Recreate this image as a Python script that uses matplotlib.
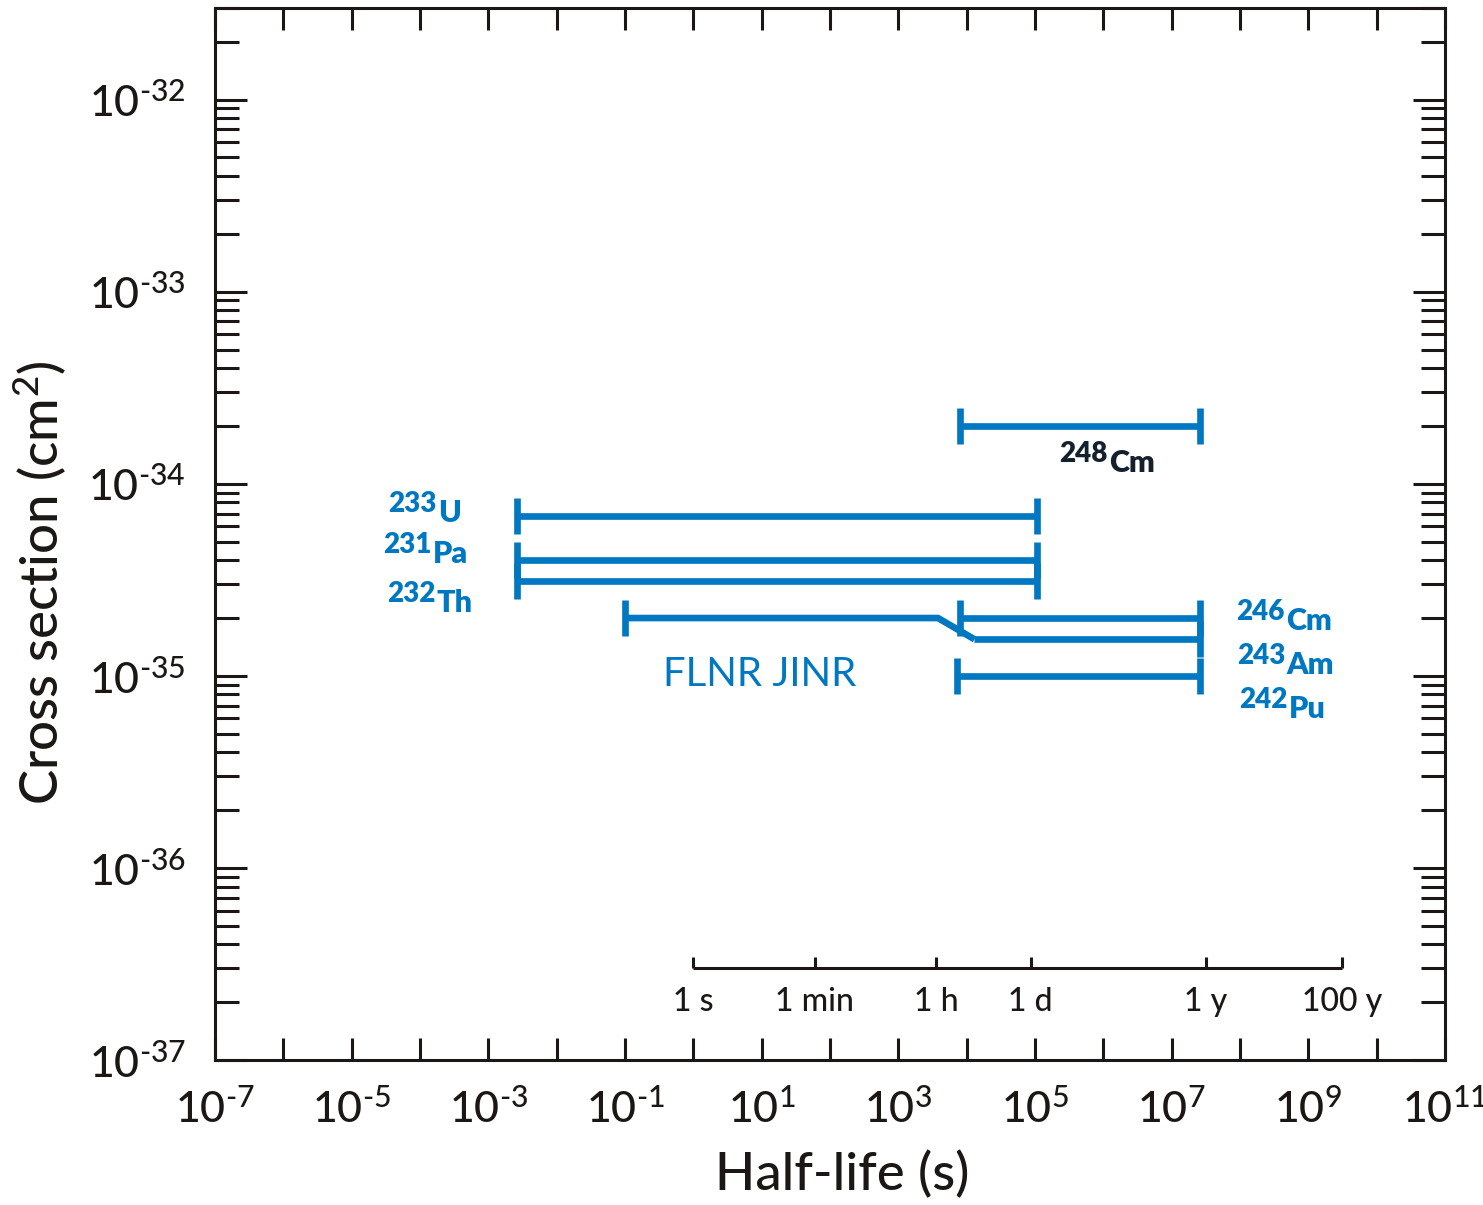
import numpy as np
import matplotlib
matplotlib.use("Agg")
from matplotlib import pyplot as plt
from matplotlib.ticker import FixedLocator, FixedFormatter, LogLocator, NullLocator, NullFormatter

plt.rcParams['font.family'] = ['Lato', 'DejaVu Sans']
plt.rcParams['mathtext.fontset'] = 'custom'
plt.rcParams['mathtext.rm'] = 'Lato'
plt.rcParams['mathtext.it'] = 'Lato:italic'
plt.rcParams['mathtext.bf'] = 'Lato:bold'

BLUE = '#0078c1'
DARK = '#1a1714'

# measured ranges (half-life in s, cross section in cm^2)
iso_mass = ['233', '231', '232', '248', '246', '243', '242']
iso_sym = ['U', 'Pa', 'Th', 'Cm', 'Cm', 'Am', 'Pu']
x_lo = [2.6e-3, 2.6e-3, 2.6e-3, 7.9e3, 7.9e3, 1.3e4, 7.2e3]
x_hi = [1.07e5, 1.07e5, 1.07e5, 2.6e7, 2.6e7, 2.6e7, 2.6e7]
sigma = [6.8e-35, 4.0e-35, 3.1e-35, 2.0e-34, 2.0e-35, 1.55e-35, 1.0e-35]
left_cap = [True, True, True, True, True, False, True]

# FLNR JINR line, joins the 243Am range
flnr_x = [0.1, 3.8e3, 1.3e4]
flnr_y = [2.0e-35, 2.0e-35, 1.55e-35]

# label anchors (x, y) in data units
lab_x = [1.77e-4, 1.5e-4, 1.71e-4, 1.17e6, 4.6e8, 4.7e8, 5.0e8]
lab_y = [6.34e-35, 3.88e-35, 2.15e-35, 1.155e-34, 1.74e-35, 1.02e-35, 6.04e-36]
lab_col = [BLUE, BLUE, BLUE, '#14202c', BLUE, BLUE, BLUE]

# time scale inset
time_vals = [1, 60, 3600, 86400, 3.156e7, 3.156e9]
time_labels = ['1 s', '1 min', '1 h', '1 d', '1 y', '100 y']
time_axis_y = 3.0e-37
time_label_y = 2.0e-37

fig = plt.figure(figsize=(14.83, 12.05), dpi=100)
ax = fig.add_axes([0.145, 0.1203, 0.8294, 0.8731])
ax.set_xscale('log')
ax.set_yscale('log')
ax.set_xlim(1e-7, 1e11)
ax.set_ylim(1e-37, 3.0e-32)

lw = 4.8
for i in range(len(sigma)):
    ax.plot([x_lo[i], x_hi[i]], [sigma[i], sigma[i]], color=BLUE, lw=lw,
            solid_capstyle='butt', zorder=3)
    ax.plot([x_hi[i]], [sigma[i]], marker='|', ms=26, mew=lw, color=BLUE, zorder=3)
    if left_cap[i]:
        ax.plot([x_lo[i]], [sigma[i]], marker='|', ms=26, mew=lw, color=BLUE, zorder=3)

ax.plot(flnr_x, flnr_y, color=BLUE, lw=lw, solid_capstyle='butt',
        solid_joinstyle='miter', zorder=3)
ax.plot([flnr_x[0]], [flnr_y[0]], marker='|', ms=26, mew=lw, color=BLUE, zorder=3)
ax.text(9.5, 1.02e-35, 'FLNR JINR', color=BLUE, fontsize=29, ha='center', va='center')

for i in range(len(iso_mass)):
    ax.annotate(iso_mass[i], (lab_x[i], lab_y[i]), xytext=(-0.5, 7), textcoords='offset points',
                ha='right', va='baseline', fontsize=20, fontweight='heavy', color=lab_col[i])
    ax.annotate(iso_sym[i], (lab_x[i], lab_y[i]), xytext=(0.5, 0), textcoords='offset points',
                ha='left', va='baseline', fontsize=22, fontweight='heavy', color=lab_col[i])

# time scale
ax.plot([time_vals[0], time_vals[-1]], [time_axis_y, time_axis_y], color=DARK, lw=2.2,
        solid_capstyle='butt')
ax.plot(time_vals, [time_axis_y] * len(time_vals), ls='none', marker=2, ms=8, mew=2.2,
        color=DARK)
for tv, tl in zip(time_vals, time_labels):
    ax.text(tv, time_label_y, tl, fontsize=23, color=DARK, ha='center', va='center',
            fontweight='medium')

# axes styling
for sp in ax.spines.values():
    sp.set_linewidth(2.2)
    sp.set_color(DARK)

HY = '\u2010'
x_exp = np.arange(-7, 12)
ax.xaxis.set_major_locator(FixedLocator(10.0 ** x_exp))
ax.xaxis.set_major_formatter(FixedFormatter(
    [r'$\mathregular{10^{%s}}$' % str(e).replace('-', HY) if e % 2 else '' for e in x_exp]))
ax.xaxis.set_minor_locator(NullLocator())

y_exp = np.arange(-37, -31)
ax.yaxis.set_major_locator(FixedLocator(10.0 ** y_exp))
ax.yaxis.set_major_formatter(FixedFormatter(
    [r'$\mathregular{10^{%s}}$' % str(e).replace('-', HY) for e in y_exp]))
ax.yaxis.set_minor_locator(LogLocator(base=10, subs=np.arange(2, 10), numticks=20))
ax.yaxis.set_minor_formatter(NullFormatter())

ax.tick_params(axis='x', which='major', direction='in', length=16, width=2.2,
               top=True, bottom=True, labelsize=31, pad=20, colors=DARK)
ax.tick_params(axis='y', which='major', direction='in', length=23, width=2.2,
               left=True, right=True, labelsize=31, pad=21, colors=DARK)
ax.tick_params(axis='y', which='minor', direction='in', length=17, width=2.2,
               left=True, right=True, colors=DARK)
for t in ax.get_xticklabels() + ax.get_yticklabels():
    t.set_fontweight('medium')

ax.set_xlabel('Half-life (s)', fontsize=38, color=DARK, fontweight='medium')
ax.set_ylabel(r'Cross section (cm$^\mathregular{2}$)', fontsize=38, color=DARK,
              fontweight='medium')
ax.xaxis.label.set_va('center')
ax.yaxis.label.set_va('center')
ax.xaxis.set_label_coords(0.51, -0.109)
ax.yaxis.set_label_coords(-0.142, 0.454)

fig.savefig('out.png', dpi=100, facecolor='white')
